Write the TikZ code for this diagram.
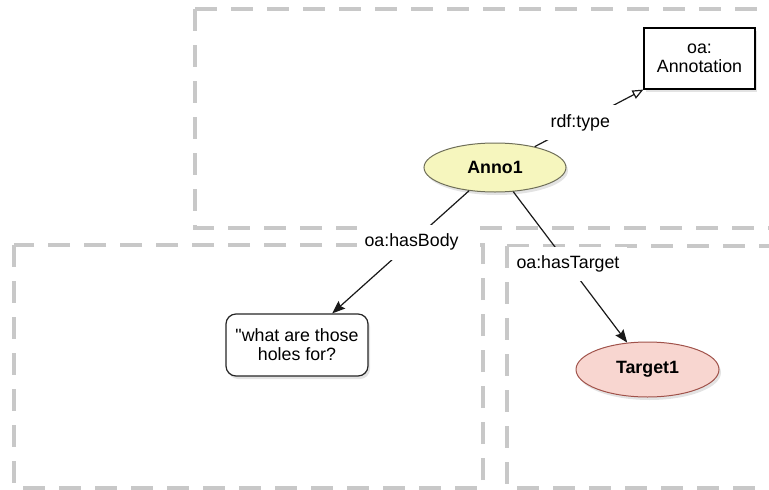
\documentclass[tikz,border=0pt]{standalone}
\usepackage{fontspec}
\setmainfont{Liberation Sans}[Ligatures=TeXOff]
\usetikzlibrary{shapes.geometric,arrows.meta,shadows}
\definecolor{regiongray}{HTML}{C8C8C8}
\definecolor{annofill}{HTML}{F6F6BE}
\definecolor{annoline}{HTML}{6E6E58}
\definecolor{targetfill}{HTML}{F8D6D0}
\definecolor{targetline}{HTML}{A0524A}
\begin{document}
\begin{tikzpicture}[x=1pt,y=-1pt,
  font=\fontsize{17.8}{18.8}\selectfont,
  region/.style={draw=regiongray, line width=3.5pt, dash pattern=on 22pt off 14pt},
  softshadow/.style={drop shadow={opacity=0.22, shadow xshift=2pt, shadow yshift=-3pt}},
  classbox/.style={draw=black, line width=1.1pt, fill=white, minimum width=111pt,
    minimum height=61pt, align=center, inner sep=2pt, softshadow},
  literal/.style={draw=black!85, line width=1.2pt, fill=white, rounded corners=10pt,
    minimum width=142pt, minimum height=62pt, align=center, inner sep=2pt, softshadow},
  resource/.style={ellipse, inner sep=0pt, line width=1pt, softshadow},
  edge/.style={draw=black!90, line width=1.2pt},
  filledtip/.style={-{Stealth[length=13pt,width=10pt,inset=2pt]}},
  opentip/.style={-{Triangle[open,length=11pt,width=9pt]}},
  edgelabel/.style={fill=white, inner xsep=8pt, inner ysep=9pt}
]
\useasboundingbox (0,0) rectangle (769,490);
\clip (0,0) rectangle (769,490);

% named graph regions
\draw[region] (195,9) -- (800,9);
\draw[region] (195,9) -- (195,228) -- (800,228);
\draw[region] (14,245) rectangle (483,488);
\draw[region] (507,246) -- (800,246);
\draw[region] (507,246) -- (507,488) -- (800,488);

% nodes
\node[classbox] (ann) at (699.5,58.5) {oa:\\Annotation};
\node[resource, fill=annofill, draw=annoline, minimum width=142pt, minimum height=49pt]
  (anno) at (495,167.5) {\bfseries Anno1};
\node[literal] (body) at (297,345) {"what are those\\holes for?};
\node[resource, fill=targetfill, draw=targetline, minimum width=143pt, minimum height=55pt]
  (target) at (647.5,369.5) {\bfseries Target1};

% connectors
\draw[edge, opentip] (anno) -- node[edgelabel, pos=0.42] {rdf:type} (ann.south west);
\draw[edge, filledtip] (anno) -- node[edgelabel, pos=0.42] {oa:hasBody} (body);
\draw[edge, filledtip] (anno) -- node[edgelabel, pos=0.48] {oa:hasTarget} (target);
\end{tikzpicture}
\end{document}
